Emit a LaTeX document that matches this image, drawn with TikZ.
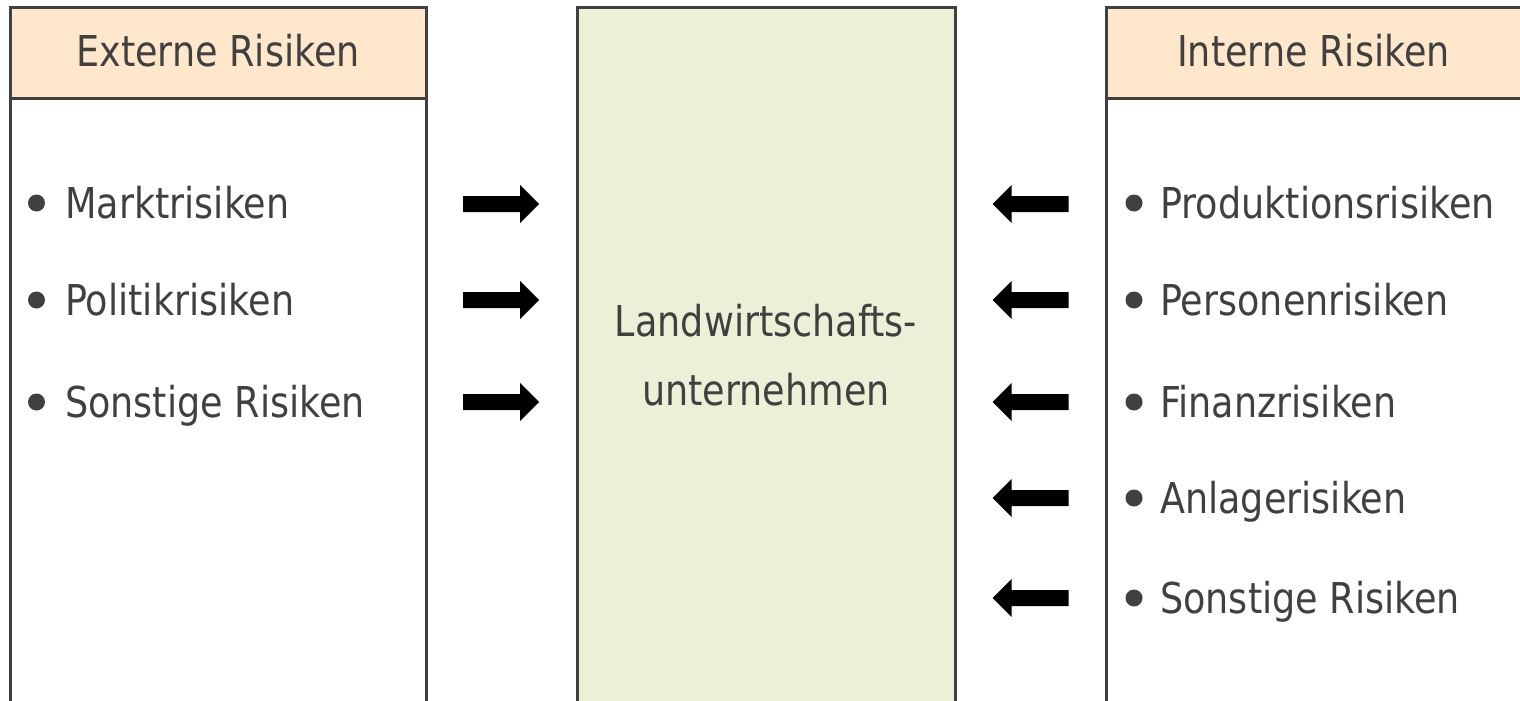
\documentclass[tikz,border=0pt]{standalone}
\usepackage{fontspec}
\setmainfont[FakeStretch=0.86]{DejaVu Sans}
\definecolor{edge}{HTML}{404040}
\definecolor{txt}{HTML}{404040}
\definecolor{peach}{HTML}{FFE7CC}
\definecolor{leaf}{HTML}{EBF1D7}
\begin{document}
\begin{tikzpicture}[x=1pt,y=-1pt,
  box/.style={draw=edge, line width=3pt, anchor=north west, inner sep=0pt, outer sep=0pt},
  lbl/.style={text=txt, inner sep=0pt, font=\fontsize{42.5}{42.5}\selectfont},
  dot/.style={circle, fill=txt, inner sep=0pt, minimum size=17pt},
  rarr/.pic={\fill (-38,-8) -- (19,-8) -- (19,-19) -- (38,0) -- (19,19) -- (19,8) -- (-38,8) -- cycle;},
  larr/.pic={\fill (38,-8) -- (-19,-8) -- (-19,-19) -- (-38,0) -- (-19,19) -- (-19,8) -- (38,8) -- cycle;}]
\useasboundingbox (0,0) rectangle (1520,701);
\clip (0,0) rectangle (1520,701);
% boxes
\node[box, minimum width=416pt, minimum height=712pt] (lbox) at (10,8) {};
\node[box, fill=peach, minimum width=416pt, minimum height=90pt] (lhead) at (10,8) {};
\node[box, fill=leaf, minimum width=378pt, minimum height=712pt] (mbox) at (577,8) {};
\node[box, minimum width=415pt, minimum height=712pt] (rbox) at (1106,8) {};
\node[box, fill=peach, minimum width=415pt, minimum height=90pt] (rhead) at (1106,8) {};
% headers
\node[lbl, anchor=base] (lt) at (218,66.7) {Externe Risiken};
\node[lbl, anchor=base] (rt) at (1313.5,66.7) {Interne Risiken};
% middle
\node[lbl, anchor=base] (m1) at (766,336) {Landwirtschafts-};
\node[lbl, anchor=base] (m2) at (766,405) {unternehmen};
% left items
\node[dot] (lb1) at (36.5,203) {};
\node[dot] (lb2) at (36.5,300) {};
\node[dot] (lb3) at (36.5,402) {};
\node[lbl, anchor=base west] (l1) at (65,218) {Marktrisiken};
\node[lbl, anchor=base west] (l2) at (65,315) {Politikrisiken};
\node[lbl, anchor=base west] (l3) at (65,417) {Sonstige Risiken};
% right items
\node[dot] (rb1) at (1134,203) {};
\node[dot] (rb2) at (1134,300) {};
\node[dot] (rb3) at (1134,402) {};
\node[dot] (rb4) at (1134,498) {};
\node[dot] (rb5) at (1134,598) {};
\node[lbl, anchor=base west] (r1) at (1160,218) {Produktionsrisiken};
\node[lbl, anchor=base west] (r2) at (1160,315) {Personenrisiken};
\node[lbl, anchor=base west] (r3) at (1160,417) {Finanzrisiken};
\node[lbl, anchor=base west] (r4) at (1160,513) {Anlagerisiken};
\node[lbl, anchor=base west] (r5) at (1160,613) {Sonstige Risiken};
% arrows
\pic at (501,204) {rarr};
\pic at (501,300) {rarr};
\pic at (501,402) {rarr};
\pic at (1030.5,204) {larr};
\pic at (1030.5,300) {larr};
\pic at (1030.5,402) {larr};
\pic at (1030.5,498) {larr};
\pic at (1030.5,598) {larr};
\end{tikzpicture}
\end{document}
